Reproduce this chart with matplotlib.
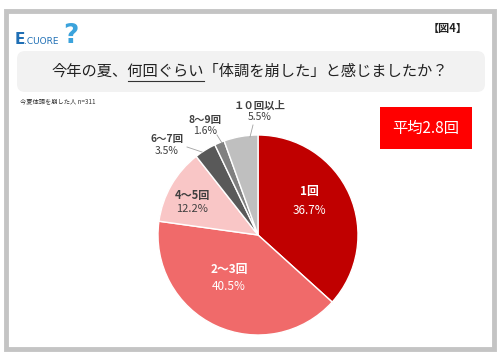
import matplotlib.pyplot as plt
from matplotlib.patches import Rectangle, FancyBboxPatch

plt.rcParams['font.family'] = ['Noto Sans CJK JP', 'DejaVu Sans']

categories = ['1回', '2～3回', '4～5回', '6～7回', '8～9回', '１０回以上']
shares = [36.7, 40.5, 12.2, 3.5, 1.6, 5.5]
colors = ['#C00000', '#F06A6A', '#F9C6C6', '#595959', '#808080', '#BFBFBF']

title = '今年の夏、何回ぐらい「体調を崩した」と感じましたか？'
note = '今夏体調を崩した人 n=311'
average = '平均2.8回'

W, H = 500, 355
fig = plt.figure(figsize=(5, 3.55), dpi=100)
ax = fig.add_axes([0, 0, 1, 1])
ax.set_xlim(0, W)
ax.set_ylim(0, H)
ax.set_aspect('equal')
ax.axis('off')

def Y(y):
    return H - y

# outer frame
ax.add_patch(Rectangle((6, Y(349)), 488, 338, facecolor='white', edgecolor='#C4C4C4', lw=3.5))

# logo
ax.text(15, Y(40), 'E', color='#1F6FB5', fontsize=11, fontweight='bold', va='center', family='DejaVu Sans')
ax.text(24, Y(41), '.CUORE', color='#1F6FB5', fontsize=6.5, va='center', family='DejaVu Sans')
ax.text(71, Y(36), '?', color='#3BA3DC', fontsize=19, fontweight='bold', va='center', ha='center', family='DejaVu Sans')
ax.text(468, Y(28), '【図4】', fontsize=8, fontweight='bold', ha='right', va='center', color='#222222')

# title box
ax.add_patch(FancyBboxPatch((17, Y(92)), 468, 41, boxstyle='round,pad=0,rounding_size=8',
                            facecolor='#F2F2F2', edgecolor='none'))
t = ax.text(250, Y(71), title, fontsize=11, ha='center', va='center', color='#222222')
fig.canvas.draw()
bb = t.get_window_extent().transformed(ax.transData.inverted())
n = len(title)
x0 = bb.x0 + (bb.x1 - bb.x0) * 5 / n
x1 = bb.x0 + (bb.x1 - bb.x0) * 10 / n
ax.plot([x0, x1], [Y(81), Y(81)], color='#333333', lw=0.8)

ax.text(20, Y(101), note, fontsize=4.5, va='center', color='#333333')

# average box
ax.add_patch(Rectangle((380, Y(149)), 92, 42, facecolor='#FF0000', edgecolor='none'))
ax.text(426, Y(128), average, fontsize=11, color='white', ha='center', va='center')

# pie
cx, cy, r = 258, Y(235), 100
wedges, _ = ax.pie(shares, colors=colors, startangle=90, counterclock=False,
                   center=(cx, cy), radius=r, frame=True,
                   wedgeprops=dict(edgecolor='white', linewidth=1))
ax.set_xlim(0, W)
ax.set_ylim(0, H)
ax.axis('off')

# (x, name y, pct y)
label_pos = [(309, 192, 210), (229, 270, 287), (192, 196, 209),
             (167, 139, 151), (205, 120, 131), (260, 106, 117)]
text_colors = ['white', 'white', '#404040', '#404040', '#404040', '#404040']
sizes = [8.5, 8.5, 8, 7.5, 7.5, 7.5]
for name, val, (lx, ny, py), tc, fs in zip(categories, shares, label_pos, text_colors, sizes):
    ax.text(lx, Y(ny), name, fontsize=fs, fontweight='bold', ha='center', va='center', color=tc)
    ax.text(lx, Y(py), f'{val}%', fontsize=fs, ha='center', va='center', color=tc)

# leader lines
for (xa, ya), (xb, yb) in [((187, 147), (202, 152)), ((217, 135), (222, 143)), ((253, 125), (250, 137))]:
    ax.plot([xa, xb], [Y(ya), Y(yb)], color='#A0A0A0', lw=0.6)

fig.savefig('out.png', dpi=100)
